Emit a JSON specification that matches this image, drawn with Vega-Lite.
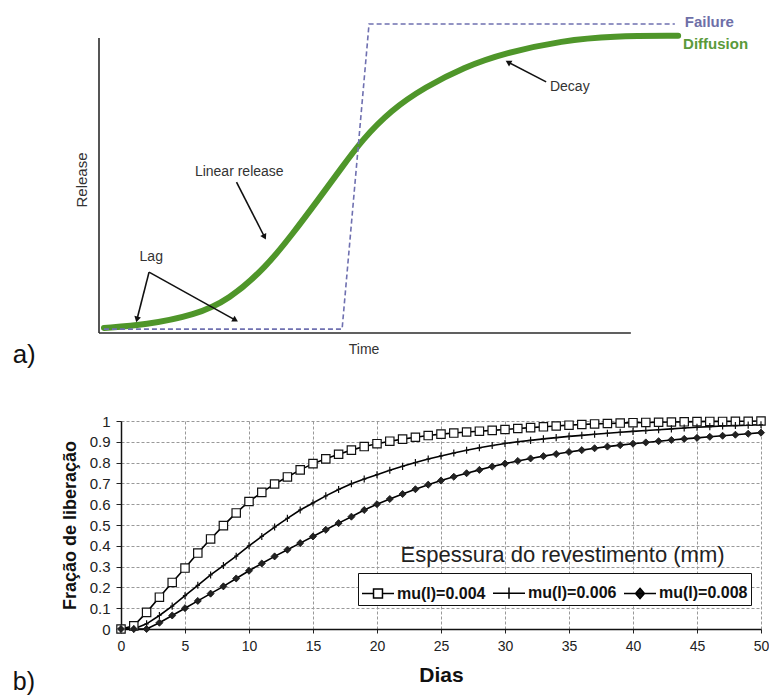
{
  "$schema": "https://vega.github.io/schema/vega-lite/v6.json",
  "padding": {"left": 12, "top": 14, "right": 5, "bottom": 5},
  "spacing": 46,
  "resolve": {"legend": {"color": "independent"}},
  "config": {"font": "Liberation Sans", "view": {"stroke": null}},
  "datasets": {
    "axes": [{"t": 0, "r": 0, "t2": 0, "r2": 98.3}, {"t": 0, "r": 0, "t2": 96.7, "r2": 0}],
    "diffusion": [
      {"t": 0.9, "r": 1.7}, {"t": 8.5, "r": 2.7}, {"t": 17.5, "r": 6}, {"t": 23.6, "r": 11}, {"t": 30.4, "r": 22},
      {"t": 35.3, "r": 33.3}, {"t": 39.8, "r": 44.3}, {"t": 44.2, "r": 55.3}, {"t": 47.8, "r": 64.3}, {"t": 53.1, "r": 74.3},
      {"t": 59.3, "r": 82}, {"t": 66.5, "r": 88.7}, {"t": 73.6, "r": 93.3}, {"t": 84.4, "r": 97.5}, {"t": 93.3, "r": 99.0}, {"t": 105.3, "r": 99.1}
    ],
    "failure": [{"t": 0.9, "r": 1.3}, {"t": 44.2, "r": 1.3}, {"t": 49.1, "r": 103}, {"t": 104.7, "r": 103}],
    "arrows": [
      {"name": "lag1", "t": 9.1, "r": 20.3, "t2": 6.9, "r2": 4.5},
      {"name": "lag2", "t": 9.1, "r": 20.3, "t2": 24.8, "r2": 4.3},
      {"name": "linear", "t": 25.0, "r": 50.3, "t2": 30.1, "r2": 32},
      {"name": "decay", "t": 81.3, "r": 83.7, "t2": 74.4, "r2": 90.3}
    ],
    "labels": [
      {"label": "Lag", "t": 9.5, "r": 25.3},
      {"label": "Linear release", "t": 25.5, "r": 53.7},
      {"label": "Decay", "t": 85.6, "r": 82},
      {"label": "Time", "t": 48.2, "r": -5.7}
    ],
    "release": [
      {"dia":0,"serie":"mu(l)=0.004","fracao":0},{"dia":1,"serie":"mu(l)=0.004","fracao":0.015},{"dia":2,"serie":"mu(l)=0.004","fracao":0.08},{"dia":3,"serie":"mu(l)=0.004","fracao":0.153},{"dia":4,"serie":"mu(l)=0.004","fracao":0.224},{"dia":5,"serie":"mu(l)=0.004","fracao":0.293},{"dia":6,"serie":"mu(l)=0.004","fracao":0.365},{"dia":7,"serie":"mu(l)=0.004","fracao":0.433},{"dia":8,"serie":"mu(l)=0.004","fracao":0.497},{"dia":9,"serie":"mu(l)=0.004","fracao":0.558},{"dia":10,"serie":"mu(l)=0.004","fracao":0.613},{"dia":11,"serie":"mu(l)=0.004","fracao":0.657},{"dia":12,"serie":"mu(l)=0.004","fracao":0.697},{"dia":13,"serie":"mu(l)=0.004","fracao":0.731},{"dia":14,"serie":"mu(l)=0.004","fracao":0.765},{"dia":15,"serie":"mu(l)=0.004","fracao":0.795},{"dia":16,"serie":"mu(l)=0.004","fracao":0.818},{"dia":17,"serie":"mu(l)=0.004","fracao":0.84},{"dia":18,"serie":"mu(l)=0.004","fracao":0.86},{"dia":19,"serie":"mu(l)=0.004","fracao":0.877},{"dia":20,"serie":"mu(l)=0.004","fracao":0.891},{"dia":21,"serie":"mu(l)=0.004","fracao":0.903},{"dia":22,"serie":"mu(l)=0.004","fracao":0.913},{"dia":23,"serie":"mu(l)=0.004","fracao":0.922},{"dia":24,"serie":"mu(l)=0.004","fracao":0.93},{"dia":25,"serie":"mu(l)=0.004","fracao":0.937},{"dia":26,"serie":"mu(l)=0.004","fracao":0.942},{"dia":27,"serie":"mu(l)=0.004","fracao":0.947},{"dia":28,"serie":"mu(l)=0.004","fracao":0.951},{"dia":29,"serie":"mu(l)=0.004","fracao":0.955},{"dia":30,"serie":"mu(l)=0.004","fracao":0.959},{"dia":31,"serie":"mu(l)=0.004","fracao":0.964},{"dia":32,"serie":"mu(l)=0.004","fracao":0.968},{"dia":33,"serie":"mu(l)=0.004","fracao":0.972},{"dia":34,"serie":"mu(l)=0.004","fracao":0.976},{"dia":35,"serie":"mu(l)=0.004","fracao":0.98},{"dia":36,"serie":"mu(l)=0.004","fracao":0.983},{"dia":37,"serie":"mu(l)=0.004","fracao":0.986},{"dia":38,"serie":"mu(l)=0.004","fracao":0.988},{"dia":39,"serie":"mu(l)=0.004","fracao":0.99},{"dia":40,"serie":"mu(l)=0.004","fracao":0.992},{"dia":41,"serie":"mu(l)=0.004","fracao":0.993},{"dia":42,"serie":"mu(l)=0.004","fracao":0.994},{"dia":43,"serie":"mu(l)=0.004","fracao":0.995},{"dia":44,"serie":"mu(l)=0.004","fracao":0.996},{"dia":45,"serie":"mu(l)=0.004","fracao":0.997},{"dia":46,"serie":"mu(l)=0.004","fracao":0.998},{"dia":47,"serie":"mu(l)=0.004","fracao":0.998},{"dia":48,"serie":"mu(l)=0.004","fracao":0.999},{"dia":49,"serie":"mu(l)=0.004","fracao":0.999},{"dia":50,"serie":"mu(l)=0.004","fracao":1.0},
      {"dia":0,"serie":"mu(l)=0.006","fracao":0},{"dia":1,"serie":"mu(l)=0.006","fracao":0},{"dia":2,"serie":"mu(l)=0.006","fracao":0.025},{"dia":3,"serie":"mu(l)=0.006","fracao":0.065},{"dia":4,"serie":"mu(l)=0.006","fracao":0.11},{"dia":5,"serie":"mu(l)=0.006","fracao":0.16},{"dia":6,"serie":"mu(l)=0.006","fracao":0.21},{"dia":7,"serie":"mu(l)=0.006","fracao":0.26},{"dia":8,"serie":"mu(l)=0.006","fracao":0.305},{"dia":9,"serie":"mu(l)=0.006","fracao":0.35},{"dia":10,"serie":"mu(l)=0.006","fracao":0.4},{"dia":11,"serie":"mu(l)=0.006","fracao":0.445},{"dia":12,"serie":"mu(l)=0.006","fracao":0.49},{"dia":13,"serie":"mu(l)=0.006","fracao":0.532},{"dia":14,"serie":"mu(l)=0.006","fracao":0.572},{"dia":15,"serie":"mu(l)=0.006","fracao":0.606},{"dia":16,"serie":"mu(l)=0.006","fracao":0.64},{"dia":17,"serie":"mu(l)=0.006","fracao":0.671},{"dia":18,"serie":"mu(l)=0.006","fracao":0.698},{"dia":19,"serie":"mu(l)=0.006","fracao":0.721},{"dia":20,"serie":"mu(l)=0.006","fracao":0.742},{"dia":21,"serie":"mu(l)=0.006","fracao":0.763},{"dia":22,"serie":"mu(l)=0.006","fracao":0.782},{"dia":23,"serie":"mu(l)=0.006","fracao":0.8},{"dia":24,"serie":"mu(l)=0.006","fracao":0.817},{"dia":25,"serie":"mu(l)=0.006","fracao":0.832},{"dia":26,"serie":"mu(l)=0.006","fracao":0.846},{"dia":27,"serie":"mu(l)=0.006","fracao":0.859},{"dia":28,"serie":"mu(l)=0.006","fracao":0.871},{"dia":29,"serie":"mu(l)=0.006","fracao":0.882},{"dia":30,"serie":"mu(l)=0.006","fracao":0.892},{"dia":31,"serie":"mu(l)=0.006","fracao":0.9},{"dia":32,"serie":"mu(l)=0.006","fracao":0.907},{"dia":33,"serie":"mu(l)=0.006","fracao":0.914},{"dia":34,"serie":"mu(l)=0.006","fracao":0.92},{"dia":35,"serie":"mu(l)=0.006","fracao":0.926},{"dia":36,"serie":"mu(l)=0.006","fracao":0.931},{"dia":37,"serie":"mu(l)=0.006","fracao":0.936},{"dia":38,"serie":"mu(l)=0.006","fracao":0.941},{"dia":39,"serie":"mu(l)=0.006","fracao":0.946},{"dia":40,"serie":"mu(l)=0.006","fracao":0.95},{"dia":41,"serie":"mu(l)=0.006","fracao":0.954},{"dia":42,"serie":"mu(l)=0.006","fracao":0.958},{"dia":43,"serie":"mu(l)=0.006","fracao":0.962},{"dia":44,"serie":"mu(l)=0.006","fracao":0.966},{"dia":45,"serie":"mu(l)=0.006","fracao":0.97},{"dia":46,"serie":"mu(l)=0.006","fracao":0.973},{"dia":47,"serie":"mu(l)=0.006","fracao":0.976},{"dia":48,"serie":"mu(l)=0.006","fracao":0.978},{"dia":49,"serie":"mu(l)=0.006","fracao":0.98},{"dia":50,"serie":"mu(l)=0.006","fracao":0.982},
      {"dia":0,"serie":"mu(l)=0.008","fracao":0},{"dia":1,"serie":"mu(l)=0.008","fracao":0},{"dia":2,"serie":"mu(l)=0.008","fracao":0},{"dia":3,"serie":"mu(l)=0.008","fracao":0.03},{"dia":4,"serie":"mu(l)=0.008","fracao":0.065},{"dia":5,"serie":"mu(l)=0.008","fracao":0.1},{"dia":6,"serie":"mu(l)=0.008","fracao":0.135},{"dia":7,"serie":"mu(l)=0.008","fracao":0.17},{"dia":8,"serie":"mu(l)=0.008","fracao":0.205},{"dia":9,"serie":"mu(l)=0.008","fracao":0.243},{"dia":10,"serie":"mu(l)=0.008","fracao":0.28},{"dia":11,"serie":"mu(l)=0.008","fracao":0.315},{"dia":12,"serie":"mu(l)=0.008","fracao":0.349},{"dia":13,"serie":"mu(l)=0.008","fracao":0.381},{"dia":14,"serie":"mu(l)=0.008","fracao":0.413},{"dia":15,"serie":"mu(l)=0.008","fracao":0.445},{"dia":16,"serie":"mu(l)=0.008","fracao":0.477},{"dia":17,"serie":"mu(l)=0.008","fracao":0.509},{"dia":18,"serie":"mu(l)=0.008","fracao":0.54},{"dia":19,"serie":"mu(l)=0.008","fracao":0.572},{"dia":20,"serie":"mu(l)=0.008","fracao":0.6},{"dia":21,"serie":"mu(l)=0.008","fracao":0.625},{"dia":22,"serie":"mu(l)=0.008","fracao":0.649},{"dia":23,"serie":"mu(l)=0.008","fracao":0.672},{"dia":24,"serie":"mu(l)=0.008","fracao":0.694},{"dia":25,"serie":"mu(l)=0.008","fracao":0.714},{"dia":26,"serie":"mu(l)=0.008","fracao":0.732},{"dia":27,"serie":"mu(l)=0.008","fracao":0.749},{"dia":28,"serie":"mu(l)=0.008","fracao":0.765},{"dia":29,"serie":"mu(l)=0.008","fracao":0.781},{"dia":30,"serie":"mu(l)=0.008","fracao":0.795},{"dia":31,"serie":"mu(l)=0.008","fracao":0.808},{"dia":32,"serie":"mu(l)=0.008","fracao":0.82},{"dia":33,"serie":"mu(l)=0.008","fracao":0.831},{"dia":34,"serie":"mu(l)=0.008","fracao":0.841},{"dia":35,"serie":"mu(l)=0.008","fracao":0.851},{"dia":36,"serie":"mu(l)=0.008","fracao":0.86},{"dia":37,"serie":"mu(l)=0.008","fracao":0.869},{"dia":38,"serie":"mu(l)=0.008","fracao":0.877},{"dia":39,"serie":"mu(l)=0.008","fracao":0.884},{"dia":40,"serie":"mu(l)=0.008","fracao":0.891},{"dia":41,"serie":"mu(l)=0.008","fracao":0.897},{"dia":42,"serie":"mu(l)=0.008","fracao":0.903},{"dia":43,"serie":"mu(l)=0.008","fracao":0.909},{"dia":44,"serie":"mu(l)=0.008","fracao":0.914},{"dia":45,"serie":"mu(l)=0.008","fracao":0.919},{"dia":46,"serie":"mu(l)=0.008","fracao":0.924},{"dia":47,"serie":"mu(l)=0.008","fracao":0.929},{"dia":48,"serie":"mu(l)=0.008","fracao":0.934},{"dia":49,"serie":"mu(l)=0.008","fracao":0.939},{"dia":50,"serie":"mu(l)=0.008","fracao":0.944}
    ]
  },
  "vconcat": [
    {
      "width": 638,
      "height": 315,
      "layer": [
        {
          "data": {"name": "axes"},
          "mark": {"type": "rule", "color": "#2b2b2b", "strokeWidth": 1.6},
          "encoding": {
            "x": {"field": "t", "type": "quantitative", "scale": {"domain": [4, 120], "nice": false, "zero": false}, "axis": null},
            "y": {"field": "r", "type": "quantitative", "scale": {"domain": [0, 105], "nice": false, "zero": false}, "axis": null},
            "x2": {"field": "t2"},
            "y2": {"field": "r2"}
          }
        },
        {
          "data": {"name": "diffusion"},
          "mark": {"type": "line", "color": "#4f962a", "strokeWidth": 6, "interpolate": "basis", "strokeCap": "round"},
          "encoding": {
            "x": {"field": "t", "type": "quantitative"},
            "y": {"field": "r", "type": "quantitative"}
          }
        },
        {
          "data": {"name": "failure"},
          "mark": {"type": "line", "color": "#6f70b0", "strokeWidth": 1.6, "strokeDash": [5, 3]},
          "encoding": {
            "x": {"field": "t", "type": "quantitative"},
            "y": {"field": "r", "type": "quantitative"}
          }
        },
        {
          "data": {"name": "arrows"},
          "mark": {"type": "rule", "color": "#111", "strokeWidth": 1.6},
          "encoding": {
            "x": {"field": "t", "type": "quantitative"},
            "y": {"field": "r", "type": "quantitative"},
            "x2": {"field": "t2"},
            "y2": {"field": "r2"}
          }
        },
        {
          "data": {"name": "arrows"},
          "transform": [{"filter": "datum.name === 'lag1'"}],
          "mark": {"type": "point", "shape": "triangle-up", "filled": true, "color": "#111", "size": 45, "angle": 194, "opacity": 1},
          "encoding": {"x": {"field": "t2", "type": "quantitative"}, "y": {"field": "r2", "type": "quantitative"}}
        },
        {
          "data": {"name": "arrows"},
          "transform": [{"filter": "datum.name === 'lag2'"}],
          "mark": {"type": "point", "shape": "triangle-up", "filled": true, "color": "#111", "size": 45, "angle": 120, "opacity": 1},
          "encoding": {"x": {"field": "t2", "type": "quantitative"}, "y": {"field": "r2", "type": "quantitative"}}
        },
        {
          "data": {"name": "arrows"},
          "transform": [{"filter": "datum.name === 'linear'"}],
          "mark": {"type": "point", "shape": "triangle-up", "filled": true, "color": "#111", "size": 45, "angle": 153, "opacity": 1},
          "encoding": {"x": {"field": "t2", "type": "quantitative"}, "y": {"field": "r2", "type": "quantitative"}}
        },
        {
          "data": {"name": "arrows"},
          "transform": [{"filter": "datum.name === 'decay'"}],
          "mark": {"type": "point", "shape": "triangle-up", "filled": true, "color": "#111", "size": 45, "angle": 300, "opacity": 1},
          "encoding": {"x": {"field": "t2", "type": "quantitative"}, "y": {"field": "r2", "type": "quantitative"}}
        },
        {
          "data": {"name": "labels"},
          "mark": {"type": "text", "font": "Liberation Sans", "fontSize": 14, "color": "#333"},
          "encoding": {
            "x": {"field": "t", "type": "quantitative"},
            "y": {"field": "r", "type": "quantitative"},
            "text": {"field": "label"}
          }
        },
        {
          "data": {"values": [{"label": "Release", "t": -3.1, "r": 51}]},
          "mark": {"type": "text", "font": "Liberation Sans", "fontSize": 15, "color": "#333", "angle": 270},
          "encoding": {
            "x": {"field": "t", "type": "quantitative"},
            "y": {"field": "r", "type": "quantitative"},
            "text": {"field": "label"}
          }
        },
        {
          "data": {"values": [{"label": "Failure", "t": 106.5, "r": 103.7}]},
          "mark": {"type": "text", "font": "Liberation Sans", "fontSize": 15, "fontWeight": "bold", "color": "#6e6fa8", "align": "left"},
          "encoding": {
            "x": {"field": "t", "type": "quantitative"},
            "y": {"field": "r", "type": "quantitative"},
            "text": {"field": "label"}
          }
        },
        {
          "data": {"values": [{"label": "Diffusion", "t": 106.2, "r": 96.3}]},
          "mark": {"type": "text", "font": "Liberation Sans", "fontSize": 15, "fontWeight": "bold", "color": "#5a9a3a", "align": "left"},
          "encoding": {
            "x": {"field": "t", "type": "quantitative"},
            "y": {"field": "r", "type": "quantitative"},
            "text": {"field": "label"}
          }
        },
        {
          "data": {"values": [{"label": "a)", "t": -13.6, "r": -7.3}]},
          "mark": {"type": "text", "fontSize": 26, "color": "#111"},
          "encoding": {
            "x": {"field": "t", "type": "quantitative"},
            "y": {"field": "r", "type": "quantitative"},
            "text": {"field": "label"}
          }
        }
      ]
    },
    {
      "width": 640,
      "height": 208,
      "data": {"name": "release"},
      "encoding": {
        "x": {
          "field": "dia", "type": "quantitative",
          "scale": {"domain": [0, 50], "nice": false, "zero": false},
          "axis": {
            "values": [0, 5, 10, 15, 20, 25, 30, 35, 40, 45, 50],
            "title": "Dias", "titleFontSize": 21, "titleFontWeight": "bold", "titleColor": "#111", "titlePadding": 11,
            "labelFontSize": 14, "labelColor": "#222", "labelPadding": 6, "labelFlush": false,
            "tickSize": 4, "tickColor": "#222", "domainColor": "#111", "domainWidth": 1.5,
            "grid": true, "gridDash": [3, 2], "gridColor": "#999", "gridWidth": 1
          }
        },
        "y": {
          "field": "fracao", "type": "quantitative",
          "scale": {"domain": [0, 1], "nice": false, "zero": false},
          "axis": {
            "values": [0, 0.1, 0.2, 0.3, 0.4, 0.5, 0.6, 0.7, 0.8, 0.9, 1],
            "format": "~g",
            "title": "Fração de liberação", "titleFontSize": 18, "titleFontWeight": "bold", "titleColor": "#111", "titlePadding": 10,
            "labelFontSize": 15, "labelColor": "#222", "labelPadding": 6, "labelFlush": false,
            "tickSize": 5, "tickColor": "#222", "domainColor": "#111", "domainWidth": 1.5,
            "grid": true, "gridDash": [3, 2], "gridColor": "#999", "gridWidth": 1
          }
        }
      },
      "layer": [
        {
          "mark": {"type": "line", "strokeWidth": 1.6},
          "encoding": {
            "color": {
              "field": "serie", "type": "nominal",
              "scale": {"range": ["#000", "#000", "#000"]},
              "legend": {
                "title": null, "orient": "none", "legendX": 237, "legendY": 152, "direction": "horizontal",
                "strokeColor": "#111", "fillColor": "white", "padding": 3, "cornerRadius": 0,
                "labelFont": "Liberation Sans", "labelFontSize": 16, "labelFontWeight": "bold", "labelColor": "#111",
                "labelOffset": 2, "labelLimit": 200, "columnPadding": 4,
                "symbolSize": 1024, "symbolStrokeWidth": 1.5, "symbolStrokeColor": "#111",
                "encode": {
                  "symbols": {
                    "update": {
                      "shape": {"signal": "datum.value === 'mu(l)=0.004' ? 'M-1,0H-0.28M0.28,0H1M-0.28,-0.28H0.28V0.28H-0.28Z' : (datum.value === 'mu(l)=0.006' ? 'M-1,0H1M0,-0.35V0.35' : 'M-1,0H1M0,-0.32L0.28,0L0,0.32L-0.28,0Z')"},
                      "fill": {"signal": "datum.value === 'mu(l)=0.008' ? '#111' : 'white'"},
                      "stroke": {"value": "#111"}
                    }
                  }
                }
              }
            }
          }
        },
        {
          "transform": [{"filter": "datum.serie === 'mu(l)=0.004'"}],
          "mark": {"type": "point", "shape": "square", "size": 70, "filled": true, "fill": "white", "stroke": "#111", "strokeWidth": 1.2, "opacity": 1}
        },
        {
          "transform": [{"filter": "datum.serie === 'mu(l)=0.006'"}],
          "mark": {"type": "point", "shape": "M0,-1V1M-0.6,0H0.6", "size": 50, "filled": false, "stroke": "#111", "strokeWidth": 1.2, "opacity": 1}
        },
        {
          "transform": [{"filter": "datum.serie === 'mu(l)=0.008'"}],
          "mark": {"type": "point", "shape": "diamond", "size": 50, "filled": true, "fill": "#222", "stroke": "#111", "strokeWidth": 0.8, "opacity": 1}
        },
        {
          "data": {"values": [{"label": "Espessura do revestimento (mm)", "dia": 34.5, "fracao": 0.356}]},
          "mark": {"type": "text", "fontSize": 22, "color": "#222"},
          "encoding": {"text": {"field": "label"}}
        },
        {
          "data": {"values": [{"label": "b)", "dia": -7.58, "fracao": -0.256}]},
          "mark": {"type": "text", "fontSize": 25, "color": "#111"},
          "encoding": {"text": {"field": "label"}}
        }
      ]
    }
  ]
}
